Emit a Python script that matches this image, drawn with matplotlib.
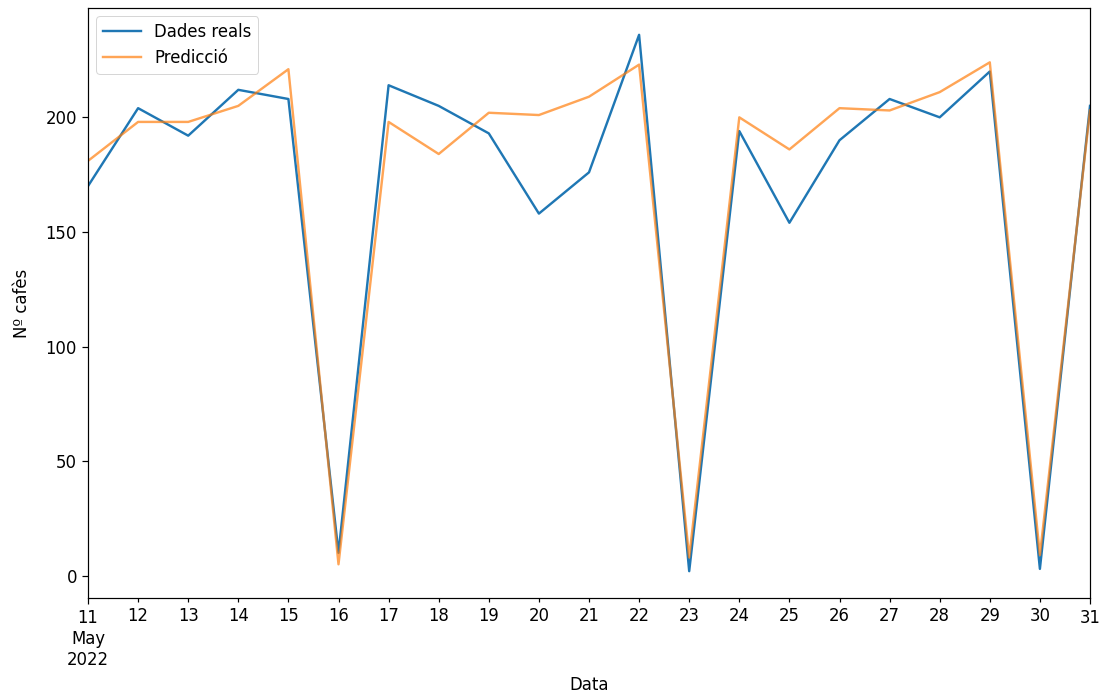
import matplotlib
matplotlib.use("Agg")
import matplotlib.pyplot as plt
import pandas as pd

# consum diari de cafès, maig 2022
dies = pd.date_range("2022-05-11", "2022-05-31", freq="D")
reals = [170, 204, 192, 212, 208, 10, 214, 205, 193, 158, 176, 236,
         2, 194, 154, 190, 208, 200, 220, 3, 205]
prediccio = [181, 198, 198, 205, 221, 5, 198, 184, 202, 201, 209, 223,
             8, 200, 186, 204, 203, 211, 224, 9, 203]

df = pd.DataFrame({"Dades reals": reals, "Predicció": prediccio}, index=dies)

fs = 16.5

fig = plt.figure(figsize=(1105 / 72, 697 / 72), dpi=72)
ax = fig.add_axes([88 / 1105, 1 - 598 / 697, (1090 - 88) / 1105, (598 - 8) / 697])

df["Dades reals"].plot(ax=ax, color="C0", linewidth=2.4)
df["Predicció"].plot(ax=ax, color="C1", alpha=0.7, linewidth=2.4)

ax.set_xlabel("Data", fontsize=fs, labelpad=7)
ax.set_ylabel("Nº cafès", fontsize=fs, labelpad=14)
ax.tick_params(which="both", labelsize=fs, width=1.2, pad=5)
ax.tick_params(which="major", length=6)
ax.tick_params(which="minor", length=4)
for s in ax.spines.values():
    s.set_linewidth(1.2)
ax.legend(loc="upper left", fontsize=fs, handlelength=2.3)

fig.savefig("out.png", dpi=72)
